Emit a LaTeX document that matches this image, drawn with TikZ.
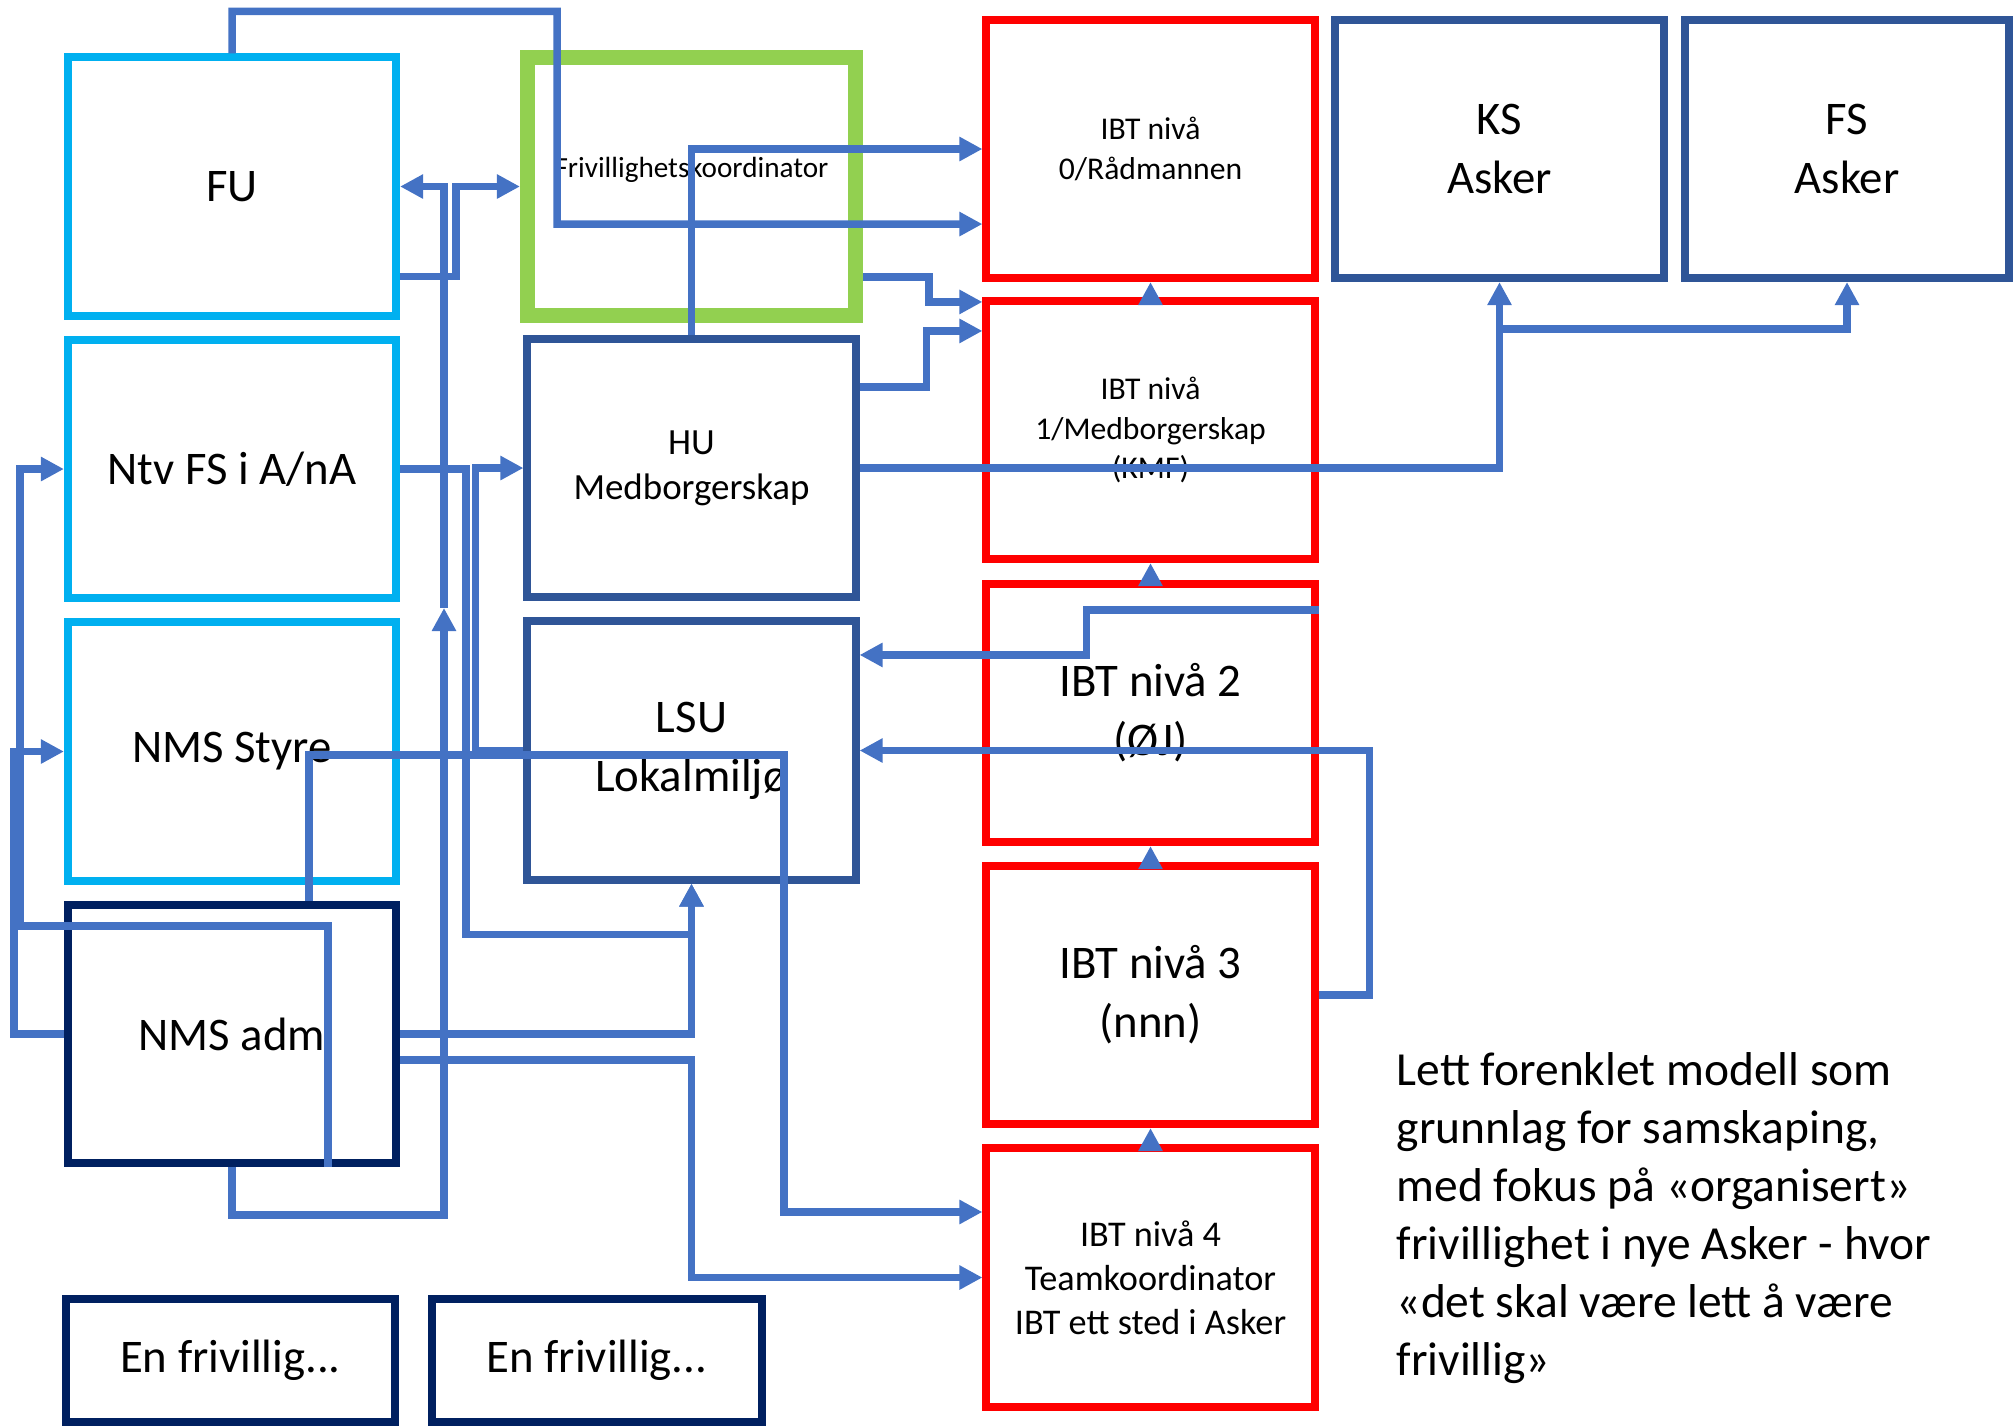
\documentclass[tikz,border=0pt]{standalone}
\usepackage{fontspec}
\setmainfont{Carlito}
\usepackage{xcolor}
\usetikzlibrary{positioning,arrows.meta}

\definecolor{fsblue}{HTML}{00B0F0}
\definecolor{navy}{HTML}{002060}
\definecolor{hublue}{HTML}{2F5597}
\definecolor{ibtred}{HTML}{FF0000}
\definecolor{frkgreen}{HTML}{92D050}
\definecolor{linkblue}{HTML}{4472C4}

\tikzset{
  box/.style={draw, line width=0.08cm, minimum width=3.28cm, minimum height=2.58cm, align=center, inner sep=0pt},
  bigtext/.style={font=\fontsize{13.3pt}{16.8pt}\selectfont},
  ibtsmall/.style={font=\fontsize{9pt}{11.2pt}\selectfont},
  link/.style={draw=linkblue, line width=0.075cm}
}

\begin{document}
\begin{tikzpicture}[x=0.01cm, y=-0.01cm, >={Triangle[length=0.23cm,width=0.23cm]}]

    \useasboundingbox (0,0) rectangle (2013,1426);

    % Left column
    \node[box, draw=fsblue, bigtext] (fu) at (232,186.5) {FU};
    \node[box, draw=fsblue, bigtext] (ntv) at (232,469) {Ntv FS i A/nA};
    \node[box, draw=fsblue, bigtext] (styre) at (232,751.5) {NMS Styre};
    \node[box, draw=navy, bigtext] (nmsadm) at (232,1034) {NMS adm};
    \node[box, draw=navy, bigtext, minimum height=1.23cm] (en1) at (230.5,1360.5) {En frivillig...};
    \node[box, draw=navy, bigtext, minimum width=3.3cm, minimum height=1.23cm] (en2) at (597,1360.5) {En frivillig...};

    % Middle column
    \node[box, draw=frkgreen, line width=0.15cm,
          label={[font=\fontsize{8.3pt}{10pt}\selectfont, yshift=0.165cm]center:Frivillighetskoordinator}] (frk) at (691.5,186.5) {};
    \node[box, draw=hublue, font=\fontsize{10.5pt}{12.8pt}\selectfont] (hu) at (691.5,468) {HU\\Medborgerskap};
    \node[box, draw=hublue, bigtext] (lsu) at (691.5,750.5) {LSU\\Lokalmiljø};

    % IBT levels
    \node[box, draw=ibtred, ibtsmall] (ibt0) at (1150.5,149) {IBT nivå\\0/Rådmannen};
    \node[box, draw=ibtred, ibtsmall] (ibt1) at (1150.5,430) {IBT nivå\\1/Medborgerskap\\(KMF)};
    \node[box, draw=ibtred, bigtext] (ibt2) at (1150.5,713) {IBT nivå 2\\(ØJ)};
    \node[box, draw=ibtred, bigtext] (ibt3) at (1150.5,995) {IBT nivå 3\\(nnn)};
    \node[box, draw=ibtred, font=\fontsize{10.3pt}{12.5pt}\selectfont] (ibt4) at (1150.5,1277.5) {IBT nivå 4\\Teamkoordinator\\IBT ett sted i Asker};

    % Right boxes
    \node[box, draw=hublue, bigtext] (ks) at (1499.5,149) {KS\\Asker};
    \node[box, draw=hublue, bigtext, minimum width=3.24cm] (fs) at (1847,149) {FS\\Asker};

    % Note
    \node[anchor=north west, align=left, inner sep=0pt, font=\fontsize{13.5pt}{16.5pt}\selectfont] (note) at (1396,1052)
        {Lett forenklet modell som\\grunnlag for samskaping,\\med fokus på «organisert»\\frivillighet i nye Asker - hvor\\«det skal være lett å være\\frivillig»};

    % Connectors
    \draw[link,->] (fu.north) -- ++(0,-42) -| (557,224) -- ([yshift=-0.75cm]ibt0.west);
    \draw[link,->] (hu.north) |- (ibt0.west);
    \draw[link,->] ([yshift=-0.9cm]fu.east) -| ([xshift=-0.64cm]frk.west) -- (frk.west);
    \coordinate (fuin) at (444,608);
    \draw[link,->] (nmsadm.south) -- ++(0,48) -| (fuin);
    \draw[link,->] (fuin) |- (fu.east);
    \draw[link,->] (ntv.east) -- ++(66,0) |- ([yshift=-0.51cm]lsu.south) -- (lsu.south);
    \draw[link,->] (nmsadm.east) -| (lsu.south);
    \draw[link,->] (lsu.west) -- ++(-48,0) |- (hu.west);
    \draw[link,->] ([xshift=0.77cm]nmsadm.north) |- (784,755) |- ([yshift=0.655cm]ibt4.west);
    \draw[link,->] ([yshift=-0.26cm]nmsadm.east) -| (lsu.south |- ibt4.west) -- (ibt4.west);
    \draw[link,->] (nmsadm.west) -- ++(-50,0) |- (styre.west);
    \draw[link,->] ([xshift=0.96cm]nmsadm.south) |- (20,926) |- (ntv.west);
    \draw[link,->] ([yshift=-0.905cm]frk.east) -- ++(66,0) |- ([yshift=1.28cm]ibt1.west);
    \draw[link,->] ([yshift=0.81cm]hu.east) -- ++(67,0) |- ([yshift=0.99cm]ibt1.west);
    \draw[link,->] (hu.east) -| (ks.south);
    \draw[link,->] ([yshift=-0.47cm]ks.south) -| (fs.south);
    \draw[link,->] ([yshift=1.03cm]ibt2.east) -- ++(-232,0) |- ([yshift=0.955cm]lsu.east);
    \draw[link,->] (ibt3.east) -- ++(51,0) |- (lsu.east);
    \foreach \lo/\hi in {ibt1/ibt0, ibt2/ibt1, ibt3/ibt2, ibt4/ibt3}
        \draw[link,->] (\lo.north) -- (\hi.south);

\end{tikzpicture}
\end{document}
